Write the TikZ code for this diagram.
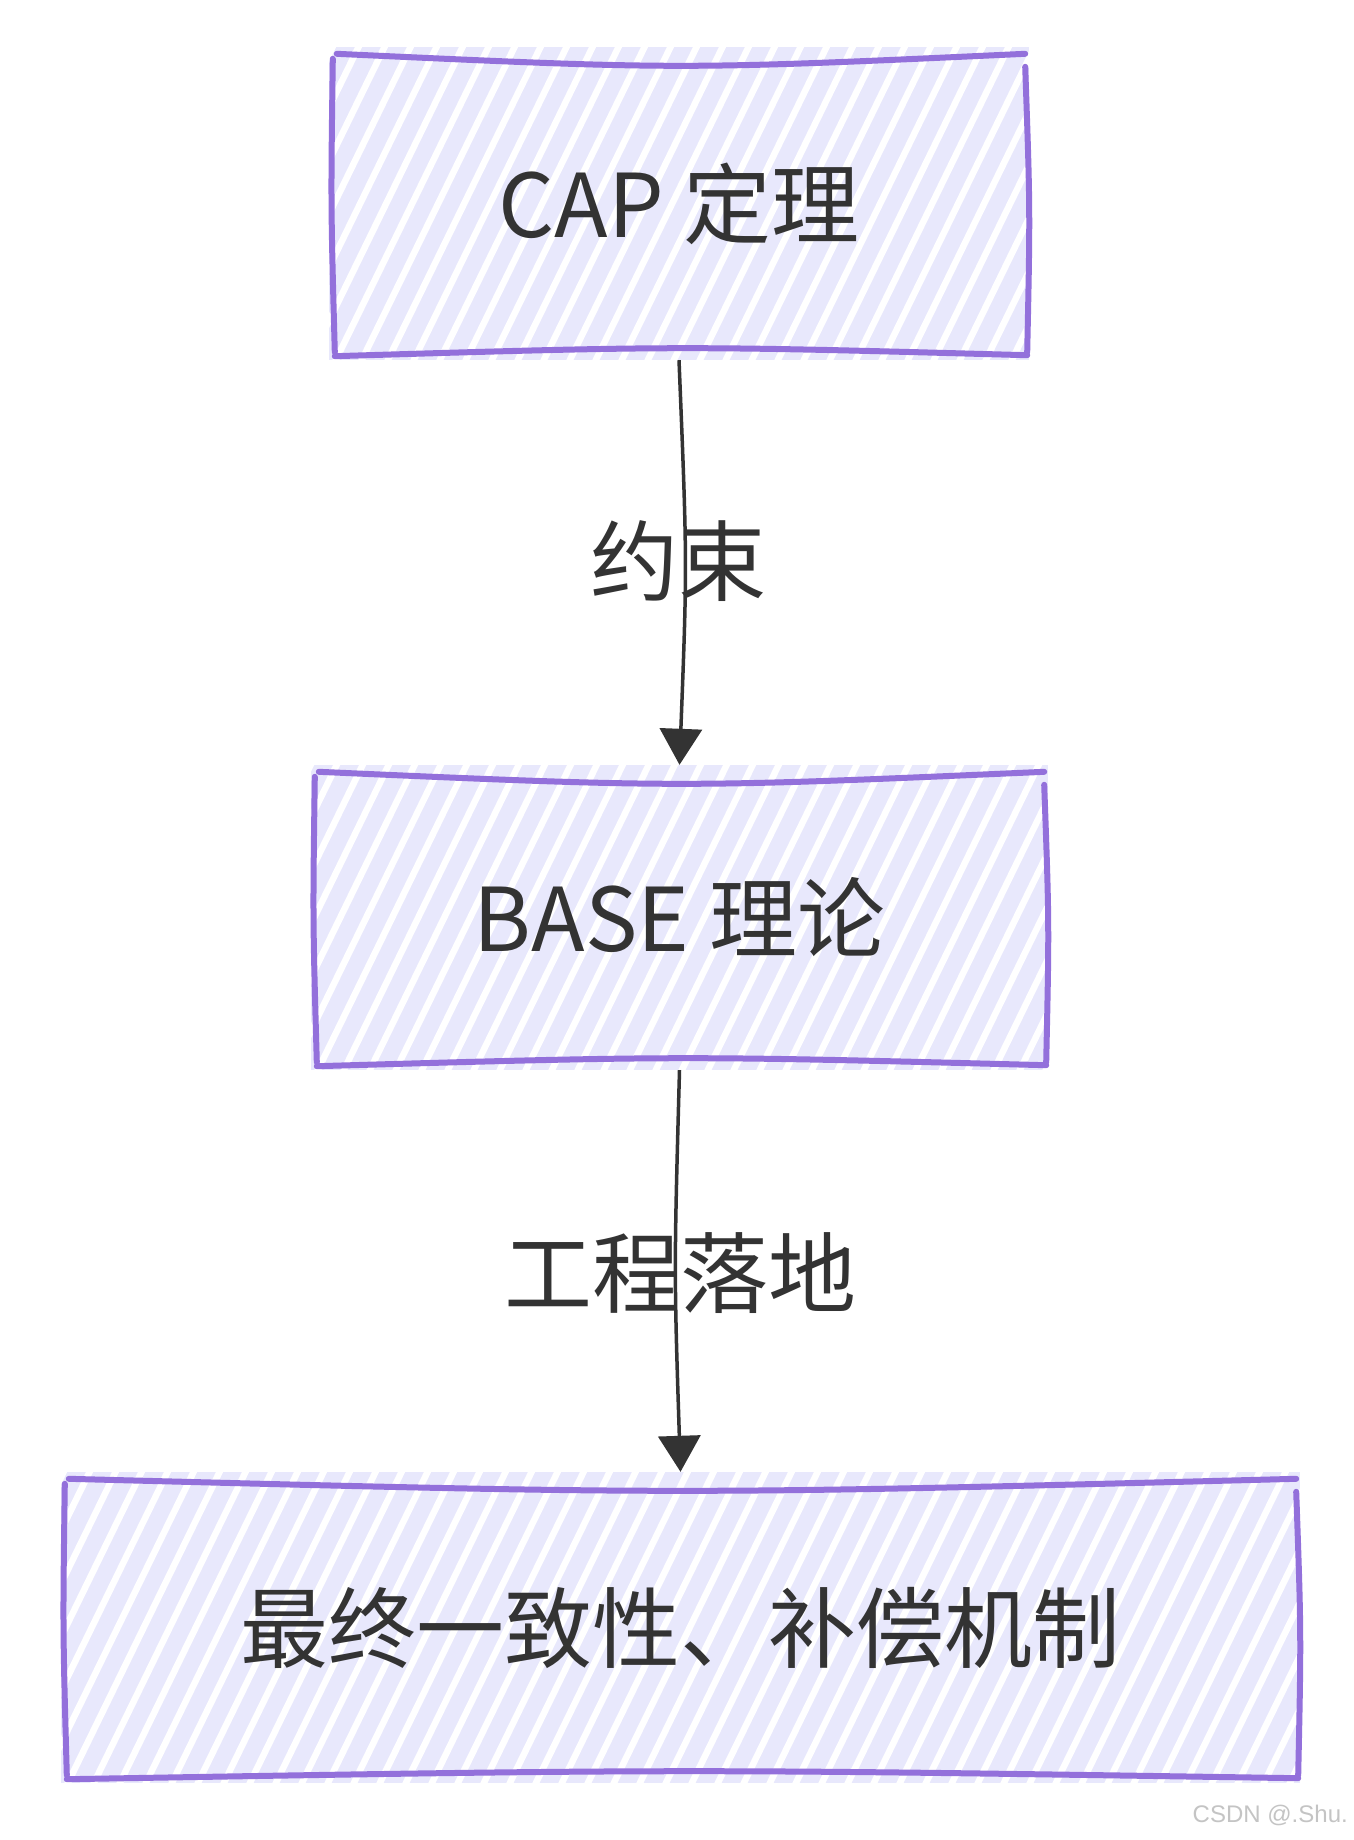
\documentclass[tikz,border=0pt]{standalone}
\usepackage{fontspec}
\setmainfont{Noto Sans CJK SC}
\newfontfamily\wmfont{Liberation Sans}
\usetikzlibrary{arrows.meta,calc}
\definecolor{lav}{HTML}{E8E8FC}
\definecolor{purp}{HTML}{9370DB}
\definecolor{ink}{HTML}{333333}
\definecolor{wmgray}{HTML}{C4C4C4}
\tikzset{
  box/.style={rectangle, inner sep=0pt, fill=lav, text=ink,
    font=\fontsize{88}{100}\selectfont,
    path picture={\foreach \i in {0,...,60}{\draw[white, line width=6.5pt]
      ([xshift=\i*26pt-180pt, yshift=-10pt]path picture bounding box.south west) -- ++(64:420pt);}}},
  edgeline/.style={purp, line width=6pt, line cap=round},
  conn/.style={ink, line width=3.5pt, -{Triangle[length=36pt,width=42pt]}},
  elabel/.style={text=ink, font=\fontsize{88}{100}\selectfont, inner sep=0pt},
  wmtext/.style={text=wmgray, font=\wmfont\fontsize{24}{28}\selectfont, inner sep=0pt},
}
\newcommand\skbox[1]{%
  \coordinate (#1tl) at ([xshift=8pt,yshift=-7pt]#1.north west);
  \coordinate (#1tr) at ([xshift=-4pt,yshift=-7pt]#1.north east);
  \coordinate (#1rt) at ([xshift=-4pt,yshift=-20pt]#1.north east);
  \coordinate (#1rb) at ([xshift=-2pt,yshift=8pt]#1.south east);
  \coordinate (#1br) at ([xshift=-2pt,yshift=5pt]#1.south east);
  \coordinate (#1bl) at ([xshift=6pt,yshift=4pt]#1.south west);
  \coordinate (#1lb) at ([xshift=6pt,yshift=8pt]#1.south west);
  \coordinate (#1lt) at ([xshift=4pt,yshift=-12pt]#1.north west);
  \draw[edgeline] (#1tl) .. controls ($(#1tl)!0.5!(#1tr)+(0,16)$) .. (#1tr);
  \draw[edgeline] (#1rt) .. controls ($(#1rt)!0.5!(#1rb)+(4,0)$) .. (#1rb);
  \draw[edgeline] (#1br) .. controls ($(#1br)!0.5!(#1bl)+(0,-10)$) .. (#1bl);
  \draw[edgeline] (#1lb) .. controls ($(#1lb)!0.5!(#1lt)+(-3,0)$) .. (#1lt);
}
\begin{document}
\begin{tikzpicture}[x=1pt,y=-1pt]
\useasboundingbox[fill=white] (0,0) rectangle (1354,1840);
\node[box, minimum width=700pt, minimum height=313pt] (b1) at (679,203.5) {CAP 定理};
\node[box, minimum width=737pt, minimum height=305pt] (b2) at (679.5,917.5) {BASE 理论};
\node[box, minimum width=1239pt, minimum height=311pt] (b3) at (680.5,1627.5) {最终一致性、补偿机制};
\skbox{b1}
\skbox{b2}
\skbox{b3}
\draw[conn] (b1.south) .. controls ($(b1.south)!0.5!(b2.north)+(8,0)$) .. (b2.north);
\draw[conn] (b2.south) .. controls ($(b2.south)!0.5!(b3.north)+(-6,0)$) .. (b3.north);
\node[elabel] (l1) at (678,561) {约束};
\node[elabel] (l2) at (680,1273) {工程落地};
\node[wmtext, anchor=east] (wm) at (1348,1815) {CSDN @.Shu.};
\end{tikzpicture}
\end{document}
